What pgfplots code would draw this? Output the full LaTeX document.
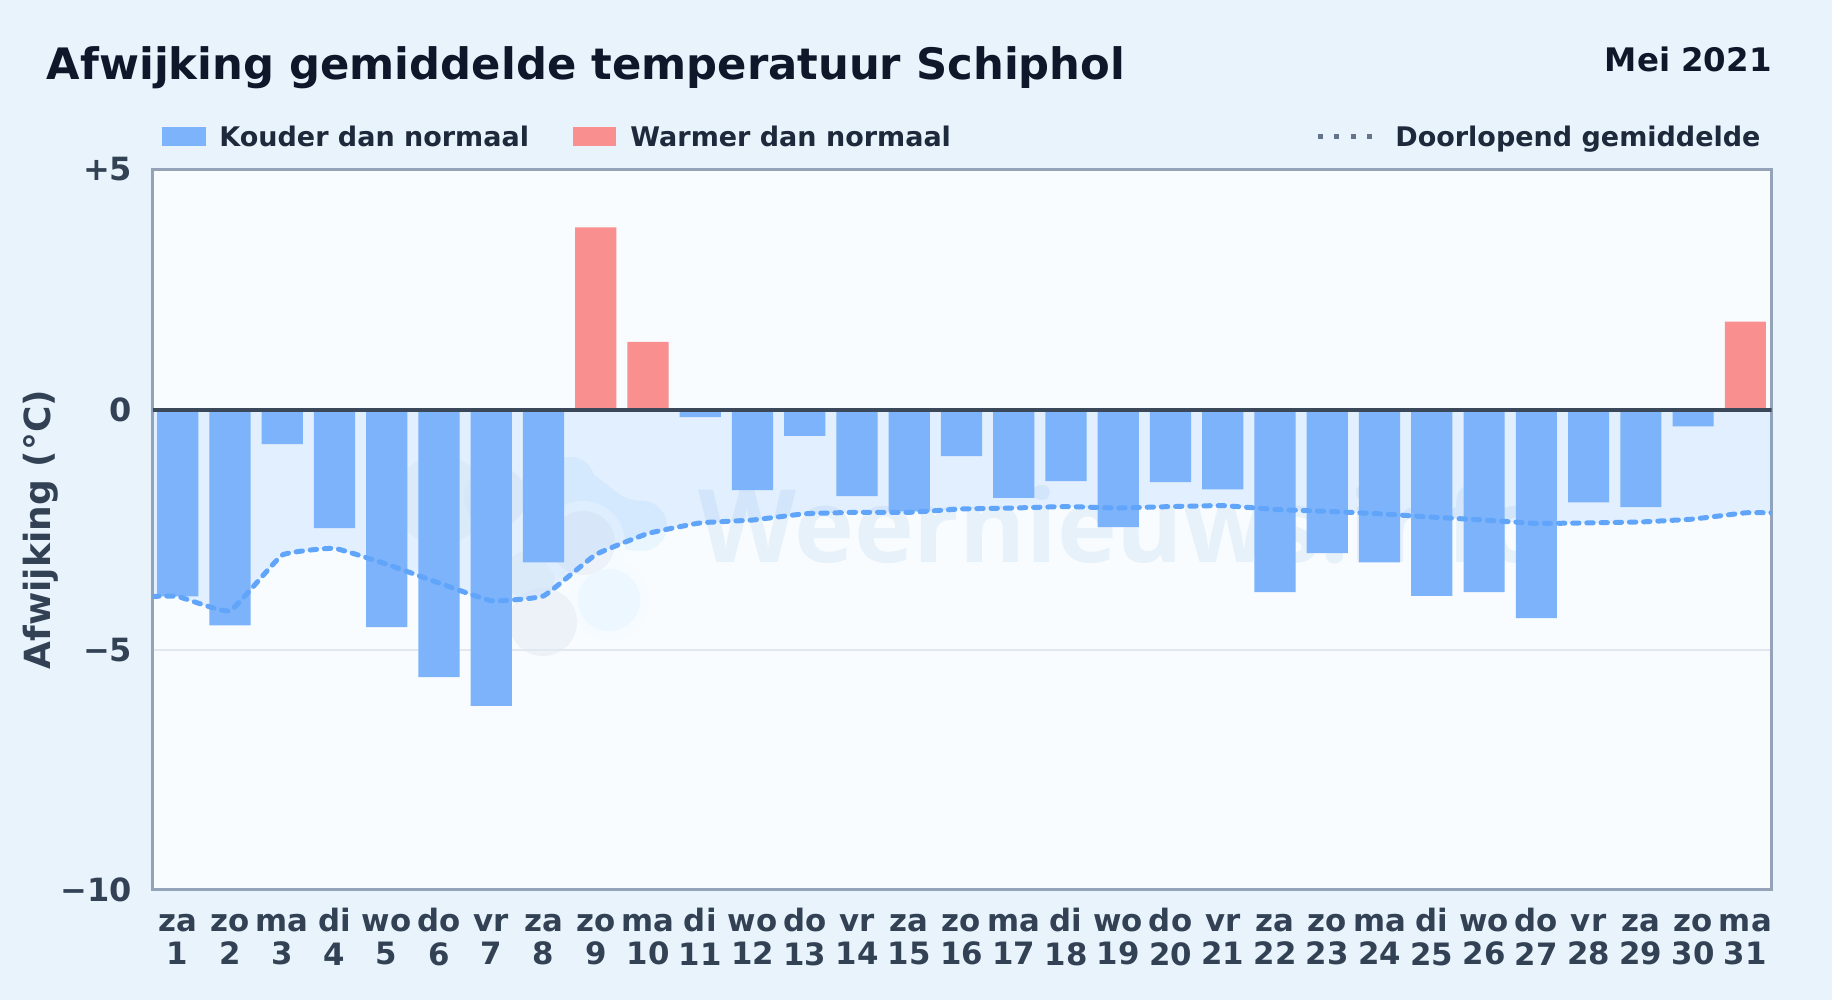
\documentclass[border=0pt]{standalone}
\usepackage{fontspec}
\setmainfont{DejaVu Sans}
\usepackage{pgfplots}
\pgfplotsset{compat=1.18}
\definecolor{pagebg}{HTML}{E8F3FC}
\definecolor{plotbg}{HTML}{F8FCFF}
\definecolor{coldbar}{HTML}{7CB3FB}
\definecolor{warmbar}{HTML}{F98F8F}
\definecolor{trend}{HTML}{60A5FA}
\definecolor{frame}{HTML}{94A3B8}
\definecolor{zeroln}{HTML}{3B4859}
\definecolor{gridln}{HTML}{E2E8F0}
\definecolor{titlec}{HTML}{0F172A}
\definecolor{legc}{HTML}{1E293B}
\definecolor{tickc}{HTML}{334155}
\definecolor{dotc}{HTML}{64748B}
\definecolor{wmtext}{HTML}{E7F1FA}
\definecolor{wmblue}{HTML}{E9F6FE}
\definecolor{wmblue2}{HTML}{ECF7FF}
\definecolor{wmgrey}{HTML}{ECF2F8}
\definecolor{wmgreen}{HTML}{F0F7F8}
\definecolor{wmhalo}{HTML}{F6FBFF}
\newcommand\tl[2]{\rule{0pt}{11.5pt}#1\\#2}
\begin{document}
\begin{tikzpicture}
\useasboundingbox (0,0) rectangle (916pt,500pt);
\begin{scope}[x=0.5pt,y=-0.5pt,shift={(0pt,500pt)}]
\fill[pagebg] (0,0) rectangle (1832,1000);
\fill[plotbg] (152.6,169.3) rectangle (1771.5,890);
% watermark
\fill[wmgreen] (440,500) circle (45);
\fill[wmgreen] (530,575) circle (25);
\draw[wmblue,line width=25pt,line cap=round,line join=round] (545,490) .. controls (590,480) and (590,525) .. (642,526);
\fill[wmblue] (570,482) circle (25);
\fill[wmhalo] (583,543) circle (42);
\fill[wmhalo] (609,600) circle (40);
\fill[wmblue2] (609,600) circle (31);
\fill[wmgrey] (495,497) circle (31);
\fill[wmgrey] (583,543) circle (32);
\fill[wmgrey] (543,622) circle (34);
\node[anchor=base west,inner sep=0pt,text=wmtext] at (698,563)
  {\fontsize{50.6}{60}\fontspec{Open Sans}\bfseries Weernieuws.info};
% texts
\node[anchor=base west,inner sep=0pt,text=titlec] at (46.5,79.5)
  {\fontsize{21.65}{25}\selectfont\bfseries Afwijking gemiddelde temperatuur Schiphol};
\node[anchor=base east,inner sep=0pt,text=titlec] at (1772,71.5)
  {\fontsize{16.2}{19}\selectfont\bfseries Mei 2021};
% legend
\fill[coldbar] (162,126.7) rectangle (206,146);
\node[anchor=base west,inner sep=0pt,text=legc] at (219,146.7)
  {\fontsize{13.5}{16}\selectfont\bfseries Kouder dan normaal};
\fill[warmbar] (573,126.7) rectangle (616,146);
\node[anchor=base west,inner sep=0pt,text=legc] at (630,146.7)
  {\fontsize{13.5}{16}\selectfont\bfseries Warmer dan normaal};
\draw[dotc,line width=2.4pt,dash pattern=on 2.4pt off 5.8pt] (1318,136.7) -- (1375,136.7);
\node[anchor=base west,inner sep=0pt,text=legc] at (1395,146.7)
  {\fontsize{13.5}{16}\selectfont\bfseries Doorlopend gemiddelde};
\end{scope}
\begin{axis}[
  at={(76.3pt,55pt)},anchor=south west,
  scale only axis,width=809.45pt,height=360.35pt,
  xmin=0.52,xmax=31.5,ymin=-10,ymax=5,
  axis line style={draw=frame,line width=1.5pt},
  major tick length=0pt,
  ymajorgrids,
  grid style={draw=gridln,line width=1pt},
  xtick={1,...,31},
  xticklabels={{\tl{za}{1}},{\tl{zo}{2}},{\tl{ma}{3}},{\tl{di}{4}},{\tl{wo}{5}},{\tl{do}{6}},{\tl{vr}{7}},{\tl{za}{8}},{\tl{zo}{9}},{\tl{ma}{10}},{\tl{di}{11}},{\tl{wo}{12}},{\tl{do}{13}},{\tl{vr}{14}},{\tl{za}{15}},{\tl{zo}{16}},{\tl{ma}{17}},{\tl{di}{18}},{\tl{wo}{19}},{\tl{do}{20}},{\tl{vr}{21}},{\tl{za}{22}},{\tl{zo}{23}},{\tl{ma}{24}},{\tl{di}{25}},{\tl{wo}{26}},{\tl{do}{27}},{\tl{vr}{28}},{\tl{za}{29}},{\tl{zo}{30}},{\tl{ma}{31}}},
  xticklabel style={align=center,text=tickc,font=\fontsize{15.4}{16.7}\selectfont\bfseries,inner sep=0pt,yshift=-9pt},
  ytick={-10,-5,0,5},
  yticklabels={{−10},{−5},{0},{+5}},
  yticklabel style={text=tickc,font=\fontsize{16}{18}\selectfont\bfseries,inner sep=0pt,xshift=-10pt},
  ylabel={Afwijking (°C)},
  ylabel style={at={(axis description cs:-0.0628,0.5)},anchor=base,rotate=0,text=tickc,font=\fontsize{18}{21}\selectfont\bfseries,inner sep=0pt},
]
\addplot[draw=none,fill=trend,fill opacity=0.15,smooth,tension=0.2,forget plot] table {
0.52 -3.89
1 -3.89
2 -4.19
3 -3.03
4 -2.89
5 -3.22
6 -3.61
7 -3.98
8 -3.88
9 -3.02
10 -2.58
11 -2.36
12 -2.30
13 -2.17
14 -2.14
15 -2.14
16 -2.07
17 -2.05
18 -2.02
19 -2.05
20 -2.02
21 -2.00
22 -2.08
23 -2.12
24 -2.17
25 -2.24
26 -2.30
27 -2.37
28 -2.36
29 -2.34
30 -2.28
31 -2.15
31.5 -2.15
} \closedcycle;
\addplot[ybar,bar width=20.6pt,bar shift=0pt,draw=none,fill=coldbar] table {
1 -3.89
2 -4.49
3 -0.72
4 -2.47
5 -4.53
6 -5.57
7 -6.17
8 -3.18
11 -0.16
12 -1.68
13 -0.55
14 -1.80
15 -2.12
16 -0.97
17 -1.84
18 -1.49
19 -2.45
20 -1.51
21 -1.66
22 -3.80
23 -2.99
24 -3.18
25 -3.88
26 -3.80
27 -4.34
28 -1.93
29 -2.03
30 -0.35
};
\addplot[ybar,bar width=20.6pt,bar shift=0pt,draw=none,fill=warmbar] table {
9 3.79
10 1.41
31 1.83
};
\addplot[trend,line width=2.5pt,line cap=round,dash pattern=on 3.2pt off 3.9pt,smooth,tension=0.2] table {
0.52 -3.89
1 -3.89
2 -4.19
3 -3.03
4 -2.89
5 -3.22
6 -3.61
7 -3.98
8 -3.88
9 -3.02
10 -2.58
11 -2.36
12 -2.30
13 -2.17
14 -2.14
15 -2.14
16 -2.07
17 -2.05
18 -2.02
19 -2.05
20 -2.02
21 -2.00
22 -2.08
23 -2.12
24 -2.17
25 -2.24
26 -2.30
27 -2.37
28 -2.36
29 -2.34
30 -2.28
31 -2.15
31.5 -2.15
};
\addplot[zeroln,line width=2pt] coordinates {(0.52,0) (31.5,0)};
\end{axis}
\end{tikzpicture}
\end{document}
